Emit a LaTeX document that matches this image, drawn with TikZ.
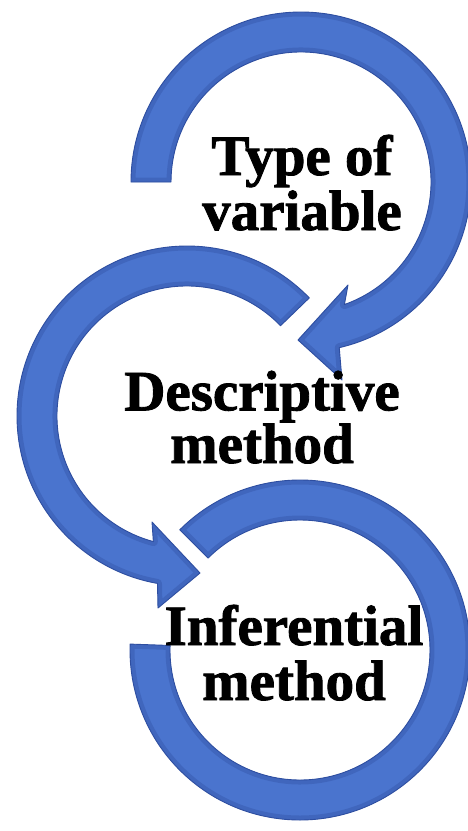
\documentclass[tikz,border=0pt]{standalone}
\usepackage{fontspec}
\setmainfont{Liberation Serif}
\newfontface\lblface{Liberation Serif Bold}[FakeBold=1.5]
\usetikzlibrary{calc}
\definecolor{ringblue}{RGB}{74,116,206}
\definecolor{ringedge}{RGB}{46,78,160}
\definecolor{ringglow}{RGB}{178,198,240}
\begin{document}
\begin{tikzpicture}[x=1pt,y=1pt,
  ringfill/.style={fill=ringblue, preaction={draw=ringglow, line width=5pt, line join=round}},
  ringrim/.style={draw=ringedge, line width=9pt, line join=round, opacity=0.35},
  ringline/.style={draw=ringedge, line width=0.9pt, line join=round},
  lbl/.style={font=\lblface\fontsize{57}{55}\selectfont, align=center, anchor=base, inner sep=0pt, text=black},
  lbltight/.style={lbl, font=\lblface\fontsize{57}{48}\selectfont}]
\useasboundingbox (0,0) rectangle (468,-831);
\fill[white] (0,0) rectangle (468,-831);
\coordinate (c1) at (301,-182);
\coordinate (c2) at (187,-416);
\coordinate (c3) at (300,-650);
% top ring
\path[save path=\ringA] ($(c1)+(180:170)$) arc[start angle=180, end angle=-77, radius=170]
  -- (342,-380) -- (298,-340) -- (348,-285)
  -- ($(c1)+(-70.5:130)$) arc[start angle=-70.5, end angle=180, radius=130] -- cycle;
% middle ring
\path[save path=\ringB] ($(c2)+(44:170)$) arc[start angle=44, end angle=260, radius=170]
  -- (158,-608) -- (200,-573) -- (152,-522)
  -- ($(c2)+(255:130)$) arc[start angle=255, end angle=44, radius=130] -- cycle;
% bottom ring
\path[save path=\ringC] ($(c3)+(135:170)$) arc[start angle=135, end angle=-182, radius=170]
  -- ($(c3)+(-182:130)$) arc[start angle=-182, end angle=135, radius=130] -- cycle;
\foreach \rp in {\ringA,\ringB,\ringC}{
  \path[use path=\rp, ringfill];
  \begin{scope}
    \clip[use path=\rp];
    \path[use path=\rp, ringrim];
  \end{scope}
  \path[use path=\rp, ringline];
}
% labels
\node[lbl] (t1) at (302,-230) {Type of\\variable};
\node[lbltight] (t2) at (262,-463) {Descriptive\\method};
\node[lbl] (t3) at (294,-700) {Inferential\\method};
\end{tikzpicture}
\end{document}
